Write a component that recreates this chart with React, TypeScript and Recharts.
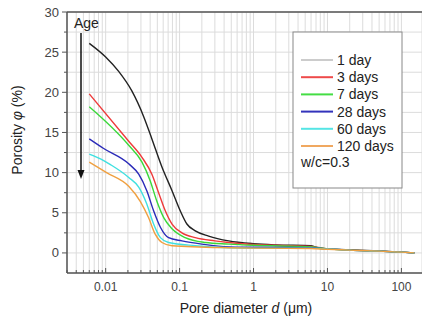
import { LineChart, Line, XAxis, YAxis, CartesianGrid, ReferenceLine } from 'recharts';

// pore diameter (um) and porosity (%), one pair per curing age
const day1D = [0.006, 0.01, 0.015, 0.0225, 0.0326, 0.0422, 0.0577, 0.079, 0.102, 0.1255, 0.163, 0.247, 0.46, 1, 2, 6, 8, 20, 50, 100, 150];
const day1P = [26.1, 24.4, 22.6, 20.2, 17.0, 14.2, 10.7, 7.75, 5.25, 3.6, 2.75, 2.1, 1.5, 1.15, 1.0, 0.9, 0.55, 0.4, 0.25, 0.1, 0];

const day3D = [0.006, 0.0205, 0.031, 0.0422, 0.052, 0.064, 0.079, 0.1075, 0.163, 0.3, 0.46, 1, 6, 10, 20, 50, 100, 150];
const day3P = [19.8, 13.9, 11.9, 9.8, 7.5, 5.25, 3.6, 2.5, 1.9, 1.5, 1.3, 1.05, 0.8, 0.5, 0.35, 0.22, 0.1, 0];

const day7D = [0.006, 0.0205, 0.031, 0.04, 0.049, 0.061, 0.079, 0.119, 0.222, 0.46, 1, 6, 10, 20, 50, 100, 150];
const day7P = [18.2, 13.4, 11.3, 9.0, 6.5, 4.4, 3.0, 1.9, 1.3, 1.1, 0.95, 0.75, 0.5, 0.35, 0.22, 0.1, 0];

const day28D = [0.006, 0.0094, 0.0205, 0.028, 0.036, 0.0445, 0.055, 0.071, 0.1075, 0.2, 0.46, 1, 6, 10, 20, 50, 100, 150];
const day28P = [14.2, 13.0, 11.1, 9.8, 7.75, 5.25, 3.2, 1.9, 1.5, 1.1, 0.75, 0.7, 0.65, 0.5, 0.35, 0.22, 0.1, 0];

const day60D = [0.006, 0.0094, 0.0116, 0.0205, 0.028, 0.036, 0.0445, 0.055, 0.071, 0.163, 0.46, 1, 6, 10, 20, 50, 100, 150];
const day60P = [12.3, 11.5, 11.0, 9.4, 8.2, 6.1, 3.6, 1.9, 1.3, 0.9, 0.65, 0.6, 0.6, 0.5, 0.35, 0.22, 0.1, 0];

const day120D = [0.006, 0.0103, 0.0205, 0.0295, 0.038, 0.047, 0.0577, 0.079, 0.46, 1, 6, 10, 20, 50, 100, 150];
const day120P = [11.3, 10.0, 8.3, 6.4, 4.4, 2.3, 1.3, 0.9, 0.65, 0.6, 0.55, 0.45, 0.35, 0.22, 0.1, 0];

const seriesNames = ['1 day', '3 days', '7 days', '28 days', '60 days', '120 days'];
const seriesColors = ['#222222', '#ee3a3a', '#3ad83a', '#2a2ab8', '#3fe0e0', '#f0a040'];
const legendColors = ['#999999', '#ee4a4a', '#44dd44', '#3333bb', '#55e5e5', '#f0a860'];

const majorX = [0.01, 0.1, 1, 10, 100];
const xTicks = [0.001, 0.01, 0.1, 1, 10, 100]
  .flatMap((base) => [1, 2, 3, 4, 5, 6, 7, 8, 9].map((m) => +(base * m).toPrecision(3)))
  .filter((v) => v >= 0.003 && v <= 100);
const yTicks = [-2.5, 0, 2.5, 5, 7.5, 10, 12.5, 15, 17.5, 20, 22.5, 25, 27.5, 30];

const toRows = (d: number[], p: number[]) => d.map((x, i) => ({ d: x, p: p[i] }));
const series = [
  toRows(day1D, day1P),
  toRows(day3D, day3P),
  toRows(day7D, day7P),
  toRows(day28D, day28P),
  toRows(day60D, day60P),
  toRows(day120D, day120P),
];

const axisColor = '#555';
const font = 'Arial, "Liberation Sans", sans-serif';

const XTick = (props: any) => {
  const { x, y, payload } = props;
  const major = majorX.includes(payload.value);
  return (
    <g>
      <line x1={x} x2={x} y1={y} y2={y - (major ? 5 : 3)} stroke={axisColor} strokeWidth={1} />
      {major && (
        <text x={x} y={y + 18} textAnchor="middle" fontSize={12} fill="#444" fontFamily={font}>
          {payload.value}
        </text>
      )}
    </g>
  );
};

const YTick = (props: any) => {
  const { x, y, payload } = props;
  const major = payload.value % 5 === 0;
  if (payload.value < 0) return <g />;
  return (
    <g>
      <line x1={x} x2={x - (major ? 5 : 3)} y1={y} y2={y} stroke={axisColor} strokeWidth={1} />
      {major && (
        <text x={x - 8} y={y + 4.5} textAnchor="end" fontSize={13} fill="#444" fontFamily={font}>
          {payload.value}
        </text>
      )}
    </g>
  );
};

export default function App() {
  return (
    <div style={{ position: 'absolute', left: 0, top: 0, width: 422, height: 320, overflow: 'hidden', background: '#fff' }}>
      <LineChart width={422} height={320} data={series[0]} margin={{ top: 12, right: 0, bottom: 0, left: 0 }}>
        <CartesianGrid stroke="#dcdcdc" strokeWidth={1} />
        <XAxis
          dataKey="d"
          type="number"
          scale="log"
          domain={[0.003, 190]}
          allowDataOverflow
          ticks={xTicks}
          interval={0}
          height={47}
          tickSize={0}
          tickMargin={0}
          tick={<XTick />}
          stroke={axisColor}
          strokeWidth={1.5}
        />
        <YAxis
          type="number"
          domain={[-2.5, 30]}
          allowDataOverflow
          ticks={yTicks}
          interval={0}
          width={67}
          tickSize={0}
          tickMargin={0}
          tick={<YTick />}
          stroke={axisColor}
          strokeWidth={1.5}
        />
        <ReferenceLine y={30} stroke={axisColor} strokeWidth={1.5} />
        {series.map((rows, i) => (
          <Line
            key={seriesNames[i]}
            data={rows}
            dataKey="p"
            type="monotone"
            stroke={seriesColors[i]}
            strokeWidth={1.4}
            dot={false}
            isAnimationActive={false}
          />
        ))}
      </LineChart>
      <svg width={422} height={320} style={{ position: 'absolute', left: 0, top: 0, pointerEvents: 'none' }} fontFamily={font}>
        <text x={74} y={28} fontSize={14} fill="#222">Age</text>
        <line x1={81} x2={81} y1={33} y2={171} stroke="#111" strokeWidth={1.5} />
        <polygon points="77.5,170 84.5,170 81,179" fill="#111" />
        <text x={246} y={313} textAnchor="middle" fontSize={14} fill="#222">
          Pore diameter <tspan fontStyle="italic">d</tspan> (μm)
        </text>
        <text x={18} y={130} textAnchor="middle" fontSize={14} fill="#222" transform="rotate(-90 18 130)" dominantBaseline="middle">
          Porosity <tspan fontStyle="italic">φ</tspan> (%)
        </text>
        <rect x={293} y={32} width={109} height={156} fill="#fff" stroke="#888" strokeWidth={1} />
        {seriesNames.map((name, i) => (
          <g key={name}>
            <line x1={301} x2={333} y1={60 + i * 17.2} y2={60 + i * 17.2} stroke={legendColors[i]} strokeWidth={i === 0 ? 1 : 2} />
            <text x={337} y={60 + i * 17.2 + 5} fontSize={14} fill="#222">{name}</text>
          </g>
        ))}
        <text x={301} y={167} fontSize={14} fill="#222">w/c=0.3</text>
      </svg>
    </div>
  );
}
